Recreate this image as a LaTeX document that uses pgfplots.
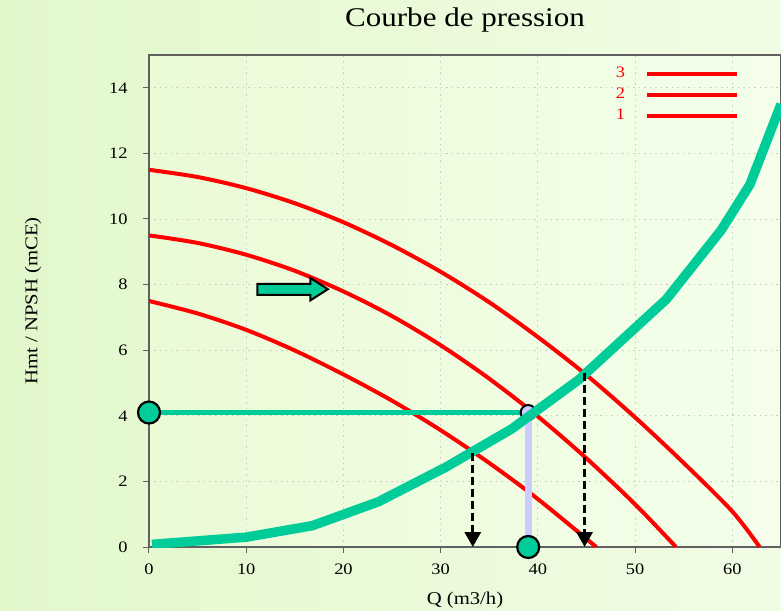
\documentclass[border=0pt]{standalone}
\usepackage{pgfplots}
\pgfplotsset{compat=1.18}
\usepackage{fontspec}
\setmainfont{Liberation Serif}[FakeStretch=1.15]
\usetikzlibrary{arrows.meta}
\definecolor{pumpgreen}{HTML}{00CC99}
\definecolor{lav}{HTML}{CCCCFF}
\definecolor{bgL}{HTML}{E1F8CB}
\definecolor{bgR}{HTML}{F1FCE5}
\definecolor{paL}{HTML}{EAFBD6}
\definecolor{paR}{HTML}{F4FEEB}
\definecolor{frame}{HTML}{606060}
\definecolor{gridc}{HTML}{C8CCC8}

\begin{document}
\begin{tikzpicture}
\useasboundingbox (-149pt,-63pt) rectangle (632pt,547pt);
\shade[left color=bgL, right color=bgR] (-149pt,-63pt) rectangle (632pt,547pt);
\begin{axis}[
  at={(0pt,0pt)}, anchor=south west,
  scale only axis, width=632pt, height=492pt,
  xmin=0, xmax=65, ymin=0, ymax=15,
  xtick={0,10,...,60}, ytick={0,2,...,14},
  tick align=outside, tick pos=left,
  major tick length=6pt,
  every tick/.style={frame, line width=1pt},
  axis line style={frame, line width=1.5pt},
  axis background/.style={shade, left color=paL, right color=paR},
  grid=major,
  major grid style={gridc, line width=0.9pt, dash pattern=on 1.5pt off 4pt},
  /pgf/number format/assume math mode=true,
  tick label style={font=\fontsize{16}{16}\selectfont, text=black},
  yticklabel style={xshift=-12pt},
  xticklabel style={yshift=-7pt},
  xlabel={Q (m3/h)},
  xlabel style={at={(axis description cs:0.5,-0.1077)}, anchor=center, font=\fontsize{18}{18}\selectfont},
  ylabel={Hmt / NPSH (mCE)},
  ylabel style={at={(axis description cs:-0.1835,0.5)}, anchor=center, font=\fontsize{18}{18}\selectfont},
  clip mode=individual,
  legend plot pos=right,
  legend cell align=right,
  legend style={at={(rel axis cs:0.933,0.9752)}, anchor=north east, draw=none, fill=none,
    inner sep=0pt, outer sep=0pt, row sep=10.5pt, column sep=20pt,
    font=\fontsize{16}{16}\selectfont, text=red,
    nodes={inner sep=0pt, outer sep=0pt, text height=10.5pt, text depth=0pt, font=\fontsize{16}{16}\selectfont}},
  legend image code/.code={\draw[#1, line width=3.5pt] (0pt,-1.5pt) -- (90pt,-1.5pt);},
]
% pump curves
\addplot[red, line width=4pt, smooth] coordinates {
 (0,11.5) (5,11.28) (10,10.94) (15,10.48) (20,9.90) (25,9.20) (30,8.39) (35,7.46)
 (40,6.40) (45,5.24) (50,3.95) (55,2.56) (60,1.08) (62.8,0)};
\addlegendentry{3}
\addplot[red, line width=4pt, smooth] coordinates {
 (0,9.5) (5,9.27) (10,8.91) (15,8.42) (20,7.79) (25,7.04) (30,6.15) (35,5.13)
 (40,3.98) (45,2.70) (50,1.30) (54.2,0)};
\addlegendentry{2}
\addplot[red, line width=4pt, smooth] coordinates {
 (0,7.5) (5,7.12) (10,6.62) (15,5.99) (20,5.26) (25,4.46) (30,3.56) (35,2.56)
 (40,1.46) (46,0)};
\addlegendentry{1}
% operating point lines
\addplot[pumpgreen, line width=5.5pt, forget plot] coordinates {(0,4.1) (39,4.1)};
\addplot[lav, line width=7pt, forget plot] coordinates {(39,4.1) (39,0)};
\addplot[only marks, mark=*, mark size=7.5pt, mark options={fill=lav, draw=black, line width=2pt}, forget plot] coordinates {(39,4.1)};
% system curve
\addplot[pumpgreen, line width=9.5pt, forget plot] coordinates {
 (0.3,0.08) (10,0.30) (16.8,0.65) (23.6,1.38) (30.5,2.43) (37.3,3.60) (44.2,5.10)
 (53.2,7.55) (58.85,9.66) (61.8,11.05) (65,13.5)};
% dashed arrows
\addplot[black, line width=3pt, dash pattern=on 8pt off 4pt, -{Triangle[width=16pt,length=15pt]}, forget plot] coordinates {(33.3,2.87) (33.3,0)};
\addplot[black, line width=3pt, dash pattern=on 8pt off 4pt, -{Triangle[width=16pt,length=15pt]}, forget plot] coordinates {(44.8,5.30) (44.8,0)};
% big circles
\addplot[only marks, mark=*, mark size=11pt, mark options={fill=pumpgreen, draw=black, line width=2.2pt}, forget plot] coordinates {(0,4.1) (39,0)};
% block arrow annotation
\draw[fill=pumpgreen, draw=black, line width=2pt, line join=miter]
 (axis cs:11.15,8.02) -- (axis cs:16.6,8.02) -- (axis cs:16.6,8.20) -- (axis cs:18.4,7.86)
 -- (axis cs:16.6,7.52) -- (axis cs:16.6,7.69) -- (axis cs:11.15,7.69) -- cycle;
\node[anchor=base, font=\fontsize{27}{27}\selectfont] at ([yshift=28pt]rel axis cs:0.5,1) {Courbe de pression};
\end{axis}
\end{tikzpicture}
\end{document}
